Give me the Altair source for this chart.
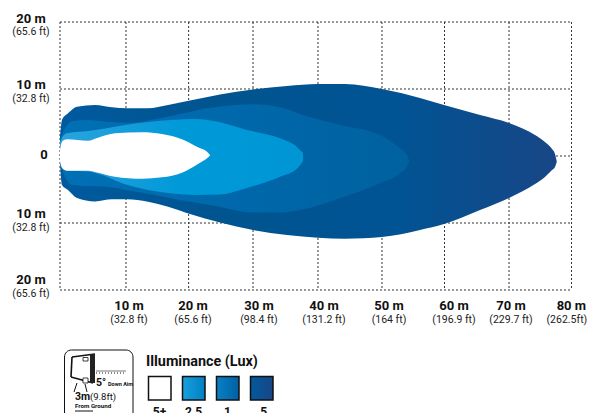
import altair as alt
import pandas as pd

# beam outlines, metres
outer_x = [0,.31,1.25,2.66,5.47,8.13,10.47,13.75,16.88,20.31,25,30.16,35.47,40.31,44.53,50.31,56.25,60,65.63,70.16,74.22,75.78,76.88,77.34,77.61]
outer_up = [2.84,5.37,6.37,7.36,7.61,7.27,7.12,7.12,7.61,8.28,9.18,9.93,10.45,10.75,10.75,10,8.66,7.61,6.12,4.93,3.13,2.09,1.04,.3,-.75]
outer_lo = [-1.04,-4.33,-5.07,-6.27,-6.79,-6.46,-6.46,-6.82,-7.57,-8.66,-9.93,-11.04,-11.79,-12.19,-12.34,-12.09,-11.04,-10.15,-8.06,-6.27,-4.18,-3.13,-2.09,-1.64,-.9]

mid_x = [0,.78,2.03,4.38,7.5,11.25,14.84,18.75,23.91,30.16,34.38,37.97,43.75,50,53.13,54.22,54.53]
mid_up = [2.39,4.18,5.22,5.37,5.12,4.97,5.48,6.27,7.24,7.72,7.27,6.12,4.63,3.13,1.15,.15,-.6]
mid_lo = [-1.04,-3.13,-4.33,-4.48,-4.63,-5.22,-5.82,-6.57,-7.39,-8.43,-8.43,-7.99,-6.31,-4.07,-2.58,-1.49,-.75]

light_x = [0,.47,1.25,4.38,6.56,9.69,13.75,17.5,21.09,25,29.22,34.38,36.98,37.97]
light_up = [1.94,2.99,3.43,3.73,4.03,4.55,5.07,5.37,5.52,5.03,3.88,2.64,1.39,.45]
light_lo = [-1.04,-1.79,-2.19,-2.31,-2.84,-4.07,-5.07,-5.6,-5.82,-5.75,-4.78,-3.09,-1.94,-.75]

white_x = [0,.31,1.09,4.38,5.94,8.59,12.81,15.94,19.06,21.56,22.97,23.44]
white_up = [.9,2.13,2.49,2.28,2.73,3.39,3.54,3.28,2.49,1.3,.64,.15]
white_lo = [-.75,-1.79,-2.19,-2.19,-2.49,-3.09,-3.39,-3.18,-2.49,-1.19,-.34,.07]

# grid
grid_x = [0,10.31,20.1,30.16,40.31,50.31,60.08,70.16,79.92]
grid_y = [20,10,0,-10,-20]

# tick labels
x_lab_m_pos = [10.78,20.78,31.09,41.25,51.41,61.56,70.47,79.9]
x_lab_ft_pos = [10.78,20.78,31.09,41.25,51.41,61.56,70.47,79.2]
x_lab_m = ["10 m","20 m","30 m","40 m","50 m","60 m","70 m","80 m"]
x_lab_ft = ["(32.8 ft)","(65.6 ft)","(98.4 ft)","(131.2 ft)","(164 ft)","(196.9 ft)","(229.7 ft)","(262.5ft)"]
y_lab_m = ["20 m","10 m","10 m","20 m"]
y_lab_m_pos = [19.85,10,-9.25,-19.1]
y_lab_ft = ["(65.6 ft)","(32.8 ft)","(32.8 ft)","(65.6 ft)"]
y_lab_ft_pos = [18.06,8.06,-11.19,-21.04]

FONT = "Roboto"
X = alt.Scale(domain=[0,80])
Y = alt.Scale(domain=[-20,20])
xq = lambda f: alt.X(f, type="quantitative", scale=X, axis=None)
yq = lambda f: alt.Y(f, type="quantitative", scale=Y, axis=None)

def grad(*cols):
    n = len(cols) - 1
    return alt.LinearGradient(gradient="linear", x1=0, x2=1, y1=0, y2=0,
        stops=[alt.GradientStop(color=c, offset=i/n) for i, c in enumerate(cols)])

def beam(xs, up, lo, fill):
    df = pd.DataFrame({"x": xs, "up": up, "lo": lo})
    return alt.Chart(df).mark_area(interpolate="monotone", color=fill, opacity=1).encode(
        x=xq("x"), y=yq("up"), y2=alt.Y2("lo"))

grid_v = alt.Chart(pd.DataFrame({"x": grid_x, "a": [20]*9, "b": [-20]*9})).mark_rule(
    color="#333333", strokeWidth=1, strokeDash=[2,2]).encode(x=xq("x"), y=yq("a"), y2=alt.Y2("b"))
grid_h = alt.Chart(pd.DataFrame({"y": grid_y, "a": [0]*5, "b": [79.92]*5})).mark_rule(
    color="#333333", strokeWidth=1, strokeDash=[2,2]).encode(y=yq("y"), x=xq("a"), x2=alt.X2("b"))

def text_layer(xs, ys, ts, bold, size, align="center"):
    df = pd.DataFrame({"x": xs, "y": ys, "t": ts})
    return alt.Chart(df).mark_text(font=FONT, fontSize=size, align=align,
        fontWeight="bold" if bold else "normal", color="#111111" if bold else "#222222",
        baseline="alphabetic").encode(x=xq("x"), y=yq("y"), text="t:N")

labels = [
    text_layer(x_lab_m_pos, [-22.99]*8, x_lab_m, True, 13),
    text_layer(x_lab_ft_pos, [-24.93]*8, x_lab_ft, False, 10.5),
    text_layer([-4.53]*4, y_lab_m_pos, y_lab_m, True, 13),
    text_layer([-4.53]*4, y_lab_ft_pos, y_lab_ft, False, 10.5),
    text_layer([-2.5], [-.45], ["0"], True, 13),
]

# legend and mounting icon (decoration placed in plot-area pixels)
def box(x, x2, y, y2, **kw):
    return alt.Chart(pd.DataFrame({"a":[0]})).mark_rect(**kw).encode(
        x=alt.value(x), x2=alt.value(x2), y=alt.value(y), y2=alt.value(y2))
def line(x, x2, y, y2, **kw):
    return alt.Chart(pd.DataFrame({"a":[0]})).mark_rule(**kw).encode(
        x=alt.value(x), x2=alt.value(x2), y=alt.value(y), y2=alt.value(y2))
def note(x, y, t, size, bold=True, align="center"):
    return alt.Chart(pd.DataFrame({"t":[t]})).mark_text(font=FONT, fontSize=size, align=align,
        fontWeight="bold" if bold else "normal", color="#111111", baseline="alphabetic").encode(
        x=alt.value(x), y=alt.value(y), text="t:N")

legend = [
    note(86, 344, "Illuminance (Lux)", 14.4, align="left"),
    box(88.5, 111, 354.5, 378, fill="#ffffff", stroke="#111111", strokeWidth=1.5),
    box(122.5, 145, 354.5, 378, fill=grad("#18a0dc","#0080c4"), stroke="#111111", strokeWidth=1.5),
    box(156.5, 179, 354.5, 378, fill=grad("#0a80c4","#0060a4"), stroke="#111111", strokeWidth=1.5),
    box(190.5, 213, 354.5, 378, fill=grad("#005a9e","#184686"), stroke="#111111", strokeWidth=1.5),
    note(99.5, 394, "5+", 12), note(133.5, 394, "2.5", 12), note(167.5, 394, "1", 12), note(202, 394, ".5", 12),
]
icon = [
    box(4.5, 73, 328, 400, fill="#ffffff", stroke="#111111", strokeWidth=1, cornerRadius=7),
    line(12, 35, 335, 332, stroke="#111111", strokeWidth=1.6),
    line(12, 11, 335, 355, stroke="#111111", strokeWidth=1.6),
    line(11, 33, 355, 361, stroke="#111111", strokeWidth=1.6),
    box(30, 35, 332, 361, fill="#222222"),
    box(23, 28, 335.5, 339, fill="#ffffff", stroke="#111111", strokeWidth=.8),
    box(23, 28, 356, 361, fill="#ffffff", stroke="#111111", strokeWidth=.8),
    line(17, 14, 361, 370, stroke="#111111", strokeWidth=1),
    line(25, 27, 362, 370, stroke="#111111", strokeWidth=1),
    line(36, 66, 349, 349, stroke="#777777", strokeWidth=1),
    line(36, 66, 351, 351, stroke="#111111", strokeWidth=1, strokeDash=[1,2]),
    note(36, 364, "5°", 10.5, align="left"),
    note(48, 364, "Down Aim", 5.5, align="left"),
    note(15, 378, "3m", 10.5, align="left"),
    note(30, 378, "(9.8ft)", 9.5, bold=False, align="left"),
    note(15, 386, "From Ground", 6.2, align="left"),
    line(15, 33, 389, 389, stroke="#111111", strokeWidth=1),
]

chart = alt.layer(
    grid_v, grid_h,
    beam(outer_x, outer_up, outer_lo, grad("#005a9e","#00548f","#005494","#184686")),
    beam(mid_x, mid_up, mid_lo, grad("#0070b4","#0068ab","#00619f")),
    beam(light_x, light_up, light_lo, grad("#2ba3dd","#0099d8","#0096d6")),
    beam(white_x, white_up, white_lo, "#ffffff"),
    *labels, *legend, *icon,
).properties(
    width=512, height=268,
    autosize=alt.AutoSizeParams(type="none"),
    padding={"left": 52, "top": 14, "right": 15, "bottom": 123},
    background="#ffffff",
).configure_view(stroke=None)

chart.save("out.html", embed_options={"renderer": "svg", "actions": False})
